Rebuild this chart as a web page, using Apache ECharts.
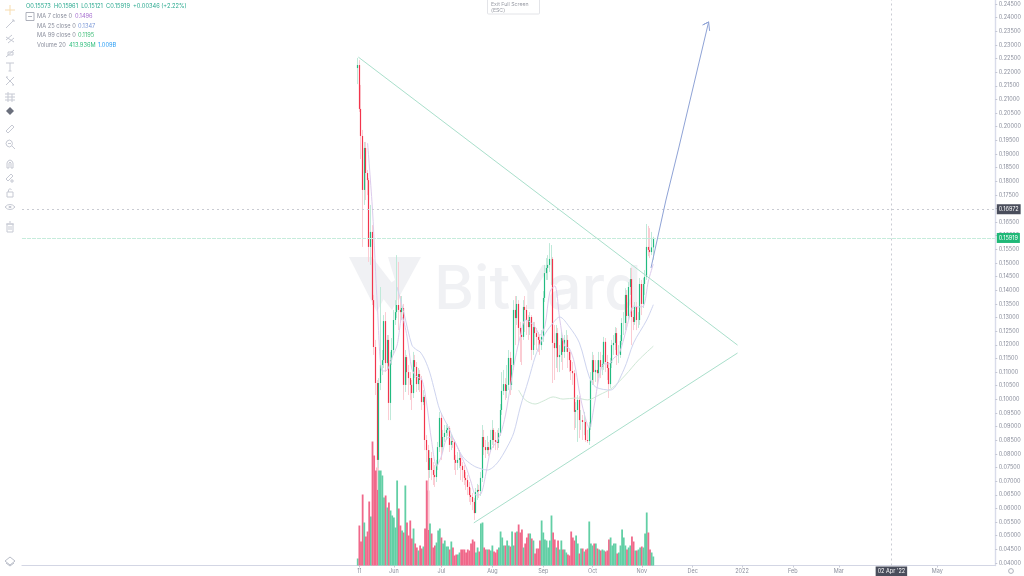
<!DOCTYPE html>
<html><head><meta charset="utf-8">
<style>html,body{margin:0;padding:0;background:#fff}#c{width:1024px;height:576px}</style>
<script src="https://cdn.jsdelivr.net/npm/echarts@6/dist/echarts.min.js"></script>
</head><body><div id="c"></div>
<script>
// Daily candles, from 10 May (day -1). Open of each day is the previous close.
const firstOpen = 0.2215;
const closes = [.2226,.2065,.1966,.1768,.1922,.1830,.1804,.1559,.1614,.1364,.1192,.1060,.0778,.1060,.1126,.1144,.1287,.1133,.1218,.0987,.1144,.1181,.1291,.1320,.1346,.1328,.1320,.1335,.1053,.1155,.1100,.1078,.1053,.1023,.1144,.1119,.1056,.1093,.1071,.0990,.1009,.0851,.0814,.0741,.0785,.0741,.0723,.0715,.0759,.0825,.0932,.0825,.0862,.0877,.0888,.0895,.0833,.0847,.0844,.0778,.0767,.0778,.0785,.0756,.0741,.0712,.0704,.0679,.0649,.0642,.0624,.0583,.0660,.0668,.0664,.0712,.0862,.0825,.0814,.0825,.0814,.0851,.0888,.0851,.0844,.0840,.0877,.0961,.1031,.1056,.1031,.1053,.1152,.1053,.1126,.1328,.1298,.1350,.1262,.1236,.1229,.1339,.1328,.1291,.1265,.1302,.1181,.1265,.1243,.1229,.1218,.1199,.1229,.1372,.1463,.1482,.1493,.1515,.1515,.1207,.1188,.1243,.1155,.1163,.1225,.1174,.1218,.1218,.1174,.1144,.1104,.1096,.0954,.0961,.0998,.0924,.0924,.0917,.0917,.0851,.0847,.0899,.1071,.1144,.1100,.1108,.1096,.1144,.1119,.1130,.1211,.1137,.1115,.1056,.1133,.1199,.1207,.1243,.1163,.1163,.1214,.1280,.1280,.1383,.1306,.1412,.1441,.1302,.1284,.1339,.1291,.1291,.1423,.1350,.1423,.1449,.1559,.1548,.1540,.15573,.15919];
const highs = [.2252,.2244,.2153,.1988,.1944,.1944,.1841,.1812,.1713,.1639,.1383,.1218,.1071,.1078,.1412,.1181,.1309,.1320,.1236,.1236,.1174,.1225,.1328,.1364,.1529,.1504,.1379,.1379,.1350,.1181,.1163,.1126,.1100,.1071,.1174,.1163,.1137,.1115,.1108,.1086,.1034,.1016,.0869,.0833,.0814,.0807,.0770,.0759,.0778,.0844,.0954,.0950,.0888,.0906,.0906,.0910,.0902,.0873,.0866,.0851,.0796,.0807,.0814,.0796,.0770,.0759,.0734,.0723,.0697,.0675,.0657,.0638,.0675,.0690,.0686,.0734,.0906,.0888,.0851,.0866,.0844,.0888,.0924,.0895,.0880,.0888,.0895,.0983,.1100,.1108,.1078,.1126,.1181,.1174,.1152,.1364,.1379,.1379,.1364,.1284,.1262,.1364,.1379,.1346,.1309,.1320,.1309,.1284,.1284,.1262,.1247,.1236,.1254,.1397,.1493,.1518,.1529,.1573,.1566,.1522,.1273,.1273,.1262,.1199,.1247,.1236,.1236,.1254,.1236,.1188,.1174,.1137,.1108,.0990,.1016,.1012,.0961,.0943,.0954,.0932,.0888,.0917,.1100,.1174,.1163,.1144,.1144,.1174,.1174,.1163,.1229,.1225,.1163,.1137,.1152,.1218,.1236,.1265,.1262,.1199,.1236,.1298,.1320,.1408,.1401,.1430,.1482,.1482,.1328,.1357,.1357,.1320,.1445,.1438,.1445,.1474,.1643,.1636,.1628,.1614,.15961];
const lows = [.2156,.2054,.1881,.1559,.1713,.1731,.1749,.1504,.1493,.1346,.1163,.1016,.0668,.0748,.1034,.1089,.1115,.1100,.1108,.0924,.0924,.1126,.1163,.1273,.1298,.1254,.1284,.1291,.0998,.1027,.1053,.1016,.0998,.0961,.1005,.1078,.1027,.1034,.1027,.0961,.0979,.0814,.0770,.0521,.0712,.0704,.0686,.0679,.0697,.0741,.0807,.0778,.0807,.0844,.0851,.0866,.0807,.0814,.0822,.0741,.0723,.0741,.0748,.0704,.0697,.0686,.0668,.0649,.0624,.0613,.0594,.0558,.0587,.0631,.0638,.0646,.0697,.0796,.0785,.0800,.0792,.0807,.0833,.0822,.0814,.0814,.0822,.0866,.0943,.1016,.0998,.1005,.1034,.1016,.1034,.1108,.1199,.1273,.1199,.1137,.1126,.1218,.1247,.1236,.1218,.1236,.1144,.1163,.1199,.1181,.1174,.1163,.1181,.1211,.1357,.1438,.1438,.1467,.1419,.1060,.1071,.1115,.1100,.1100,.1137,.1108,.1152,.1174,.1115,.1100,.1071,.1053,.0888,.0895,.0844,.0858,.0888,.0851,.0869,.0844,.0840,.0833,.0888,.1053,.1053,.1064,.1053,.1078,.1078,.1089,.1108,.1100,.1071,.1005,.1042,.1115,.1163,.1181,.1126,.1133,.1152,.1199,.1236,.1254,.1254,.1291,.1383,.1199,.1254,.1273,.1254,.1262,.1273,.1309,.1335,.1383,.1438,.1525,.1518,.1529,.15121];
// Volumes in millions
const volumes = [322,1840,1104,3266,1978,1334,1564,2944,2254,5704,5060,4370,4508,4370,4370,4140,3128,3220,2668,2898,2530,2300,2208,1748,3910,2622,1840,1610,1518,3680,1978,1380,2070,1242,1702,1012,828,690,920,782,874,1702,3910,3450,1932,1472,828,920,1058,1610,1702,1288,1012,1150,874,874,736,1104,828,460,506,506,598,736,736,736,598,736,690,1012,1196,1104,598,828,644,1932,1978,828,736,736,736,690,920,644,598,736,828,1564,1288,920,920,1150,920,874,1564,920,1518,1564,1886,1518,1656,828,1012,1288,1472,1472,1242,1150,552,782,782,1150,2070,1518,1196,1150,828,1150,2300,1518,1196,828,1150,736,1150,736,736,598,506,460,1564,1288,1150,1380,1012,552,782,782,644,736,782,2024,1012,920,1012,1012,782,736,690,736,690,644,690,1196,1288,920,1012,1012,552,598,920,1656,1288,920,736,828,920,1334,1104,690,690,736,828,874,828,1472,2438,1518,736,598,414];
// Moving averages: [candle index list, value list]
const ma7Index = [6,9,12,15,18,21,24,27,30,33,36,39,42,45,48,51,54,57,60,63,66,69,72,75,78,81,84,87,90,93,96,99,102,105,108,111,114,117,120,123,126,129,132,135,138,141,144,147,150,153,156,159,162,165,168,171,174,177,180];
const ma7Values = [.1940,.1694,.1339,.1104,.1108,.1155,.1199,.1302,.1232,.1111,.1082,.1075,.0983,.0847,.0756,.0792,.0855,.0862,.0836,.0792,.0752,.0697,.0649,.0653,.0726,.0814,.0840,.0873,.0943,.1049,.1152,.1232,.1291,.1284,.1265,.1236,.1269,.1394,.1416,.1295,.1196,.1185,.1133,.1027,.0946,.0895,.0976,.1082,.1130,.1130,.1152,.1166,.1221,.1291,.1342,.1339,.1342,.1434,.1496];
const ma25Index = [24,28,33,36,38,41,44,47,50,56,60,64,68,72,79,85,91,95,99,104,108,113,118,123,129,135,141,145,154,162,168,176,180];
const ma25Values = [.1412,.1320,.1199,.1181,.1174,.1144,.1096,.1027,.0961,.0888,.0833,.0789,.0767,.0752,.0741,.0767,.0825,.0877,.0972,.1071,.1155,.1229,.1273,.1302,.1265,.1207,.1082,.1045,.1034,.1108,.1207,.1291,.1347];
const ma99Index = [98,102,108,113,119,125,133,140,147,155,163,171,180];
const ma99Values = [.1034,.0998,.0983,.0994,.1009,.1001,.1005,.0998,.1016,.1042,.1089,.1144,.1195];
// Drawn trend lines and arrow: [day, price]
const trendDown = [[-0.6,.2255],[230.3,.1199]];
const trendUp = [[69.7,.0547],[230.3,.1170]];
const arrowPath = [[177.6,.1482],[186.7,.1731],[194.5,.1922],[203.6,.2153],[212.7,.2384],[209.1,.2373],[212.7,.2384],[213.3,.2351]];
// Axis ticks
const xTickDays = [0,21,50,81,112,142,172,203,233,264,292,352];
const xTickLabels = ['11','Jun','Jul','Aug','Sep','Oct','Nov','Dec','2022','Feb','Mar','May'];
const yTicks = [.04,.045,.05,.055,.06,.065,.07,.075,.08,.085,.09,.095,.1,.105,.11,.115,.12,.125,.13,.135,.14,.145,.15,.155,.16,.165,.17,.175,.18,.185,.19,.195,.2,.205,.21,.215,.22,.225,.23,.235,.24,.245];
const crosshairPrice = 0.16972, lastPrice = 0.15919, crosshairDay = 324, crosshairLabel = "02 Apr '22";

const UP='#22bb80', DOWN='#f2344c', UPW='#bfe9d9', DOWNW='#fbccd3';
const opens = closes.map((c,i)=> i===0 ? firstOpen : closes[i-1]);
const dayOf = i => i-1;
const full = closes.map((c,i)=>[dayOf(i),opens[i],c,lows[i],highs[i]]);
const body = closes.map((c,i)=>[dayOf(i),opens[i],c,Math.min(opens[i],c),Math.max(opens[i],c)]);
const vols = volumes.map((v,i)=>({value:[dayOf(i),v],itemStyle:{color:closes[i]>=opens[i]?'#62cfa5':'#f0688a'}}));
const pairs=(idx,vals)=>idx.map((k,i)=>[dayOf(k),vals[i]]);
const maLine=(name,data,color)=>({type:'line',name,data,showSymbol:false,smooth:.3,silent:true,lineStyle:{color,width:1},z:4});
const segLine=(name,data,color)=>({type:'line',name,data,showSymbol:false,silent:true,lineStyle:{color,width:1},z:5});

const FONT='Inter, "Open Sans", sans-serif';
const txt=(x,y,s,fill,size)=>({type:'text',x,y,silent:true,style:{text:s,fill,font:`${size||5.5}px ${FONT}`,textVerticalAlign:'middle'},z:20});
const icon=(y,strokes,color)=>strokes.map(p=>({type:'polyline',x:5,y:y-5,silent:true,shape:{points:p},style:{fill:'none',stroke:color||'#c6c9d3',lineWidth:1},z:20}));
const icons=[
 ...icon(10,[[[5,0],[5,10]],[[0,5],[10,5]]],'#f7dcae'),
 ...icon(24,[[[1,9],[9,1]],[[7,1],[9,1],[9,3]]]),
 ...icon(39,[[[1,6],[7,1]],[[3,9],[9,4]],[[1,3],[9,8]]]),
 ...icon(53,[[[1,9],[9,2]],[[3,4],[8,4],[8,7],[3,7],[3,4]]]),
 ...icon(67,[[[1,1],[9,1]],[[5,1],[5,9]],[[3.5,9],[6.5,9]]]),
 ...icon(81,[[[1,1],[9,9]],[[9,1],[1,9]],[[1,1],[3,1]],[[7,9],[9,9]]]),
 ...icon(97,[[[0,2],[10,2]],[[0,5],[10,5]],[[0,8],[10,8]],[[3,0],[3,10]],[[7,2],[7,10]]]),
 {type:'polygon',x:6,y:107,silent:true,shape:{points:[[4,0],[8,4],[4,8],[0,4]]},style:{fill:'#6a6f7c'},z:20},
 ...icon(129,[[[1,7],[7,1],[9,3],[3,9],[1,7]]]),
 ...icon(144,[[[7.5,4.5],[6.5,2],[4.5,1],[2,2],[1,4.5],[2,7],[4.5,8],[6.5,7],[7.5,4.5]],[[7,7],[10,10]],[[3,4.5],[6,4.5]]]),
 ...icon(164,[[[2,9],[2,4],[3,2],[5,1],[7,2],[8,4],[8,9],[6,9],[6,4],[5,3],[4,4],[4,9],[2,9]]]),
 ...icon(178,[[[1,6],[6,1],[8,3],[3,8],[1,6]],[[6,7],[8,7],[8,9],[6,9],[6,7]]]),
 ...icon(192,[[[2,5],[8,5],[8,10],[2,10],[2,5]],[[3.5,5],[3.5,3],[5,1.5],[6.5,3]]]),
 ...icon(207,[[[0,5],[2.5,3],[5,2.5],[7.5,3],[10,5],[7.5,7],[5,7.5],[2.5,7],[0,5]],[[4,4.5],[6,4.5],[6,5.5],[4,5.5],[4,4.5]]]),
 ...icon(227,[[[2,2],[8,2],[8,10],[2,10],[2,2]],[[1,2],[9,2]],[[4,0],[6,0]],[[4,4],[4,8]],[[6,4],[6,8]]]),
 ...icon(561,[[[5,1],[10,5],[5,9],[0,5],[5,1]],[[1,7],[5,10],[9,7]]],'#b9bdc8')
];
const legend=[
 txt(26,6.5,'O0.15573  H0.15961  L0.15121  C0.15919  +0.00346 (+2.22%)','#2aa98f',5.7),
 {type:'rect',shape:{x:26,y:12.5,width:8,height:8},silent:true,style:{fill:'#fff',stroke:'#9a9eab',lineWidth:.8},z:20},
 {type:'rect',shape:{x:28,y:16,width:4,height:.8},silent:true,style:{fill:'#9a9eab'},z:20},
 txt(37,16,'MA 7 close 0','#8a8e9c',5.7),txt(75,16,'0.1496','#a66fd0',5.7),
 txt(37,26,'MA 25 close 0','#8a8e9c',5.7),txt(78,26,'0.1347','#7d9ad8',5.7),
 txt(37,35,'MA 99 close 0','#8a8e9c',5.7),txt(78,35,'0.1195','#3fbd78',5.7),
 txt(37,45,'Volume 20','#8a8e9c',5.7),txt(69,45,'413.936M','#2fbe7d',5.7),txt(98,45,'1.009B','#2a9df4',5.7)
];
const chrome=[
 {type:'rect',shape:{x:487.5,y:-2,width:52,height:16,r:1},silent:true,style:{fill:'#fff',stroke:'#e3e4e8',lineWidth:1},z:20},
 txt(491,4,'Exit Full Screen','#9a9da6',5.2),txt(491,10,'(ESC)','#9a9da6',5.2),
 {type:'circle',shape:{cx:1011,cy:571,r:2.4},silent:true,style:{fill:'none',stroke:'#9a9eab',lineWidth:.8},z:20}
];
const watermark=[
 {type:'polygon',shape:{points:[[349,257],[372,257],[392,283],[377,312]]},silent:true,style:{fill:'#f0f1f4'},z:-1},
 {type:'polygon',shape:{points:[[388,257],[421,257],[392,310],[378,292],[395,280]]},silent:true,style:{fill:'#f0f1f4'},z:-1},
 {type:'text',x:434,y:291,silent:true,style:{text:'BitYard',fill:'#f0f1f4',font:`500 61px ${FONT}`,textVerticalAlign:'middle'},z:-1}
];

const chart=echarts.init(document.getElementById('c'),null,{renderer:'canvas'});
chart.setOption({
 animation:false,backgroundColor:'#fff',
 grid:{left:22,right:24,top:0,height:565.5},
 xAxis:{type:'value',min:-205.45,max:387.27,splitLine:{show:false},
  axisLine:{onZero:false,lineStyle:{color:'#d3d6e4',width:1.2}},
  axisTick:{customValues:xTickDays,length:2,lineStyle:{color:'#c9ccd8'}},
  axisLabel:{customValues:xTickDays,margin:3,fontSize:5.5,color:'#8a8e9c',fontFamily:FONT,
   formatter:v=>xTickLabels[xTickDays.indexOf(v)]||''}},
 yAxis:[
  {type:'value',position:'right',min:.03908,max:.24645,splitLine:{show:false},
   axisLine:{show:true,onZero:false,lineStyle:{color:'#d9dcea',width:1.4}},
   axisTick:{show:true,customValues:yTicks,length:2,lineStyle:{color:'#c4c7d4'}},
   axisLabel:{customValues:yTicks,margin:3.5,fontSize:5.5,color:'#8a8e9c',fontFamily:FONT,formatter:v=>v.toFixed(5)}},
  {type:'value',show:false,min:0,max:26013,splitLine:{show:false}}
 ],
 graphic:{elements:[...watermark,...icons,...legend,...chrome]},
 series:[
  {type:'bar',name:'Volume',yAxisIndex:1,data:vols,barWidth:1.8,silent:true,z:1},
  {type:'candlestick',name:'Wicks',data:full,encode:{x:0,y:[1,2,3,4]},barWidth:.3,silent:true,z:2,
   itemStyle:{color:UPW,color0:DOWNW,borderColor:UPW,borderColor0:DOWNW,borderWidth:1}},
  maLine('MA 99',pairs(ma99Index,ma99Values),'#cfe8d6'),
  maLine('MA 25',pairs(ma25Index,ma25Values),'#ced4ef'),
  maLine('MA 7',pairs(ma7Index,ma7Values),'#dccbec'),
  {type:'candlestick',name:'Bodies',data:body,encode:{x:0,y:[1,2,3,4]},barWidth:.3,silent:true,z:3,
   itemStyle:{color:UP,color0:DOWN,borderColor:UP,borderColor0:DOWN,borderWidth:1.2}},
  segLine('Trend down',trendDown,'#a9dfcb'),
  segLine('Trend up',trendUp,'#a9dfcb'),
  {...segLine('Arrow',arrowPath,'#8fa3d6')},
  {type:'line',name:'Levels',data:[],silent:true,z:6,
   markLine:{silent:true,symbol:'none',animation:false,precision:5,data:[
    {yAxis:crosshairPrice,lineStyle:{color:'#c9cbd2',type:[2,3],width:1},
     label:{position:'end',distance:1.5,formatter:crosshairPrice.toFixed(5),fontSize:5.5,fontFamily:FONT,color:'#fff',backgroundColor:'#4a4e5c',padding:[2,2]}},
    {yAxis:lastPrice,lineStyle:{color:'#c6ecdc',type:[4,1],width:1},
     label:{position:'end',distance:1.5,formatter:lastPrice.toFixed(5),fontSize:5.5,fontFamily:FONT,color:'#fff',backgroundColor:'#1fb877',padding:[2,2]}},
    {xAxis:crosshairDay,lineStyle:{color:'#c9cbd2',type:[2,3],width:1},
     label:{position:'start',distance:1,formatter:crosshairLabel,fontSize:5.5,fontFamily:FONT,color:'#fff',backgroundColor:'#4a4e5c',padding:[2,2]}}
   ]}}
 ]
});
</script></body></html>
